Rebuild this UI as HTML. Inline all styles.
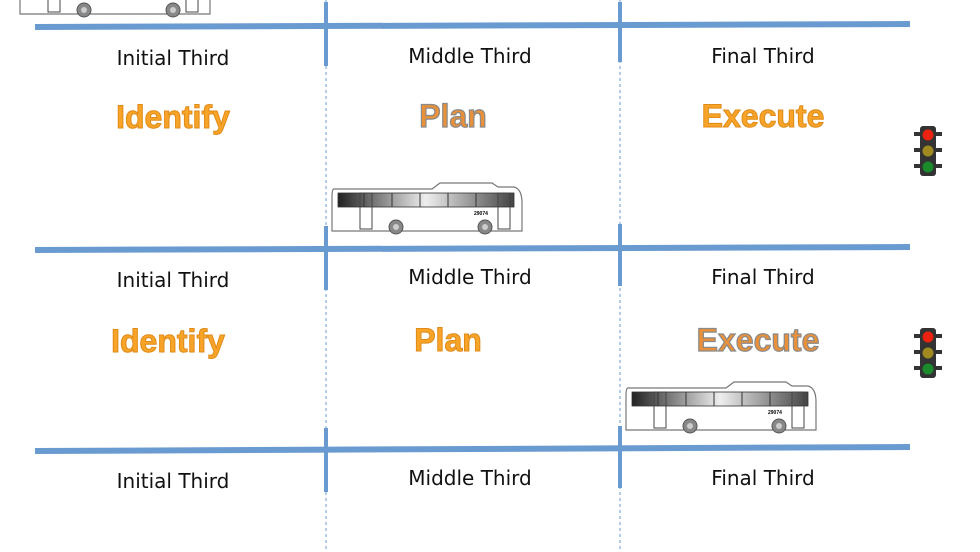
<!DOCTYPE html>
<html><head><meta charset="utf-8"><style>
html,body{margin:0;padding:0;background:#fff;width:980px;height:552px;overflow:hidden}
svg{display:block}
.l{font-family:"DejaVu Sans","Liberation Sans",sans-serif;font-size:20px;fill:#111;text-anchor:middle}
.b{font-family:"Liberation Sans",sans-serif;font-weight:bold;font-size:32px;text-anchor:middle;fill:#f7a428;stroke:#e08a18;stroke-width:1}
.g{fill:#e8913a;stroke:#8a8a8a;stroke-width:1.2}
</style></head><body>
<svg width="980" height="552" viewBox="0 0 980 552">
<defs>
<linearGradient id="w" x1="0" x2="1"><stop offset="0" stop-color="#222"/><stop offset=".5" stop-color="#eee"/><stop offset="1" stop-color="#444"/></linearGradient>
<g id="bus">
<path d="M2,6 L100,6 L108,0 L160,0 L166,4 L182,4 Q190,6 190,20 L190,48 L0,48 L0,14 Q0,6 2,6Z" fill="#fff" stroke="#777" stroke-width="1.2"/>
<rect x="6" y="10" width="176" height="14" fill="url(#w)" stroke="#333" stroke-width=".8"/>
<g stroke="#333" stroke-width="1"><line x1="32" y1="10" x2="32" y2="24"/><line x1="60" y1="10" x2="60" y2="24"/><line x1="88" y1="10" x2="88" y2="24"/><line x1="116" y1="10" x2="116" y2="24"/><line x1="144" y1="10" x2="144" y2="24"/></g>
<rect x="28" y="10" width="12" height="36" fill="none" stroke="#444"/>
<rect x="166" y="10" width="12" height="36" fill="none" stroke="#444"/>
<text x="142" y="32" font-size="5" font-family="Liberation Sans" font-weight="bold">29074</text>
<circle cx="64" cy="44" r="7" fill="#888" stroke="#555"/><circle cx="64" cy="44" r="3" fill="#ccc"/>
<circle cx="153" cy="44" r="7" fill="#888" stroke="#555"/><circle cx="153" cy="44" r="3" fill="#ccc"/>
</g>
<g id="tl">
<rect x="0" y="0" width="16" height="50" rx="3" fill="#333"/>
<rect x="-6" y="6" width="28" height="4" fill="#333"/><rect x="-6" y="22" width="28" height="4" fill="#333"/><rect x="-6" y="38" width="28" height="4" fill="#333"/>
<circle cx="8" cy="9" r="5.5" fill="#e21"/><circle cx="8" cy="25" r="5.5" fill="#a08a20"/><circle cx="8" cy="41" r="5.5" fill="#1a8a2a"/>
</g>
</defs>
<g stroke="#6a9bd0" stroke-width="6">
<line x1="35" y1="27" x2="910" y2="24"/>
<line x1="35" y1="250" x2="910" y2="247"/>
<line x1="35" y1="451" x2="910" y2="447"/>
</g>
<g stroke="#6a9bd0" stroke-width="1" stroke-dasharray="3,3">
<line x1="326" y1="0" x2="326" y2="552"/><line x1="620" y1="0" x2="620" y2="552"/>
</g>
<g stroke="#6a9bd0" stroke-width="4">
<line x1="326" y1="2" x2="326" y2="66"/><line x1="620" y1="2" x2="620" y2="62"/>
<line x1="326" y1="226" x2="326" y2="290"/><line x1="620" y1="224" x2="620" y2="286"/>
<line x1="326" y1="428" x2="326" y2="492"/><line x1="620" y1="426" x2="620" y2="488"/>
</g>
<use href="#bus" x="20" y="-34"/>
<use href="#bus" x="332" y="183"/>
<use href="#bus" x="626" y="382"/>
<use href="#tl" x="920" y="126"/>
<use href="#tl" x="920" y="328"/>
<text class="l" x="173" y="65">Initial Third</text>
<text class="l" x="470" y="63">Middle Third</text>
<text class="l" x="763" y="63">Final Third</text>
<text class="l" x="173" y="287">Initial Third</text>
<text class="l" x="470" y="284">Middle Third</text>
<text class="l" x="763" y="284">Final Third</text>
<text class="l" x="173" y="488">Initial Third</text>
<text class="l" x="470" y="485">Middle Third</text>
<text class="l" x="763" y="485">Final Third</text>
<text class="b" x="173" y="128">Identify</text>
<text class="b g" x="453" y="127">Plan</text>
<text class="b" x="763" y="127">Execute</text>
<text class="b" x="168" y="352">Identify</text>
<text class="b" x="448" y="351">Plan</text>
<text class="b g" x="758" y="351">Execute</text>
</svg>
</body></html>
